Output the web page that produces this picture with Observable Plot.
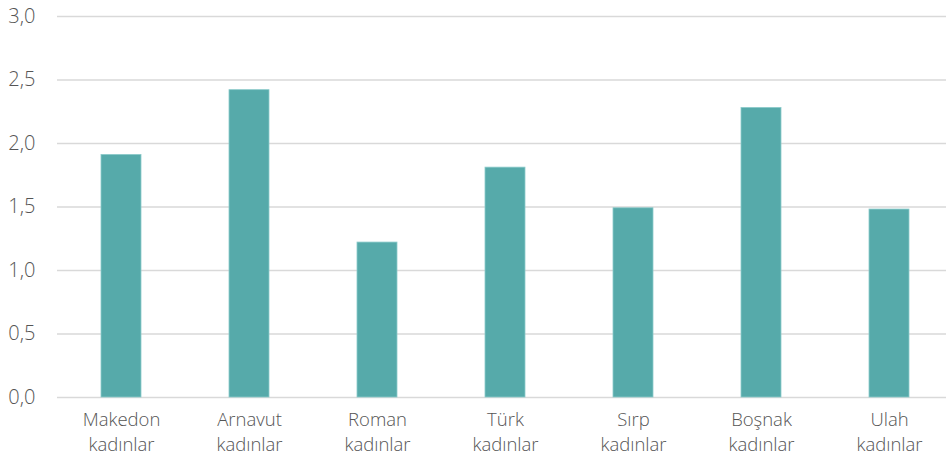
<!DOCTYPE html>
<html>
<head>
<meta charset="utf-8">
<script src="https://cdn.jsdelivr.net/npm/d3@7"></script>
<script src="https://cdn.jsdelivr.net/npm/@observablehq/plot@0.6"></script>
<style>
  html, body { margin: 0; padding: 0; background: #fff; }
  #chart { width: 946px; height: 459px; }
</style>
</head>
<body>
<div id="chart"></div>
<script>
const categories = ["Makedon\nkadınlar", "Arnavut\nkadınlar", "Roman\nkadınlar", "Türk\nkadınlar", "Sırp\nkadınlar", "Boşnak\nkadınlar", "Ulah\nkadınlar"];
const values = [1.91, 2.42, 1.22, 1.81, 1.49, 2.28, 1.48];
const yTicks = [0, 0.5, 1, 1.5, 2, 2.5, 3];

const data = categories.map((c, i) => ({category: c, value: values[i]}));
const fmt = d => d.toFixed(1).replace(".", ",");

const chart = Plot.plot({
  width: 946,
  height: 459,
  marginLeft: 57,
  marginRight: 0,
  marginTop: 16,
  marginBottom: 62,
  style: {fontFamily: "'Open Sans'", fontWeight: 300, fontSize: "18px", color: "#555", background: "#fff"},
  x: {domain: categories, range: [57, 953], paddingInner: 0.6875, paddingOuter: 0.34375, label: null},
  y: {domain: [0, 3], label: null},
  marks: [
    Plot.ruleY(yTicks, {stroke: "#d9d9d9", strokeWidth: 1.5, strokeOpacity: 1}),
    Plot.barY(data, {x: "category", y: "value", fill: "#56AAAA", stroke: "#8ccaca", strokeWidth: 0.8}),
    Plot.axisY({ticks: yTicks, tickFormat: fmt, tickSize: 0, tickPadding: 22, label: null, fontSize: 20, fill: "#555"}),
    Plot.axisX({tickSize: 0, tickPadding: 10, label: null, fontSize: 18.5, lineHeight: 1.38, fill: "#555"})
  ]
});
document.getElementById("chart").appendChild(chart);
</script>
</body>
</html>
